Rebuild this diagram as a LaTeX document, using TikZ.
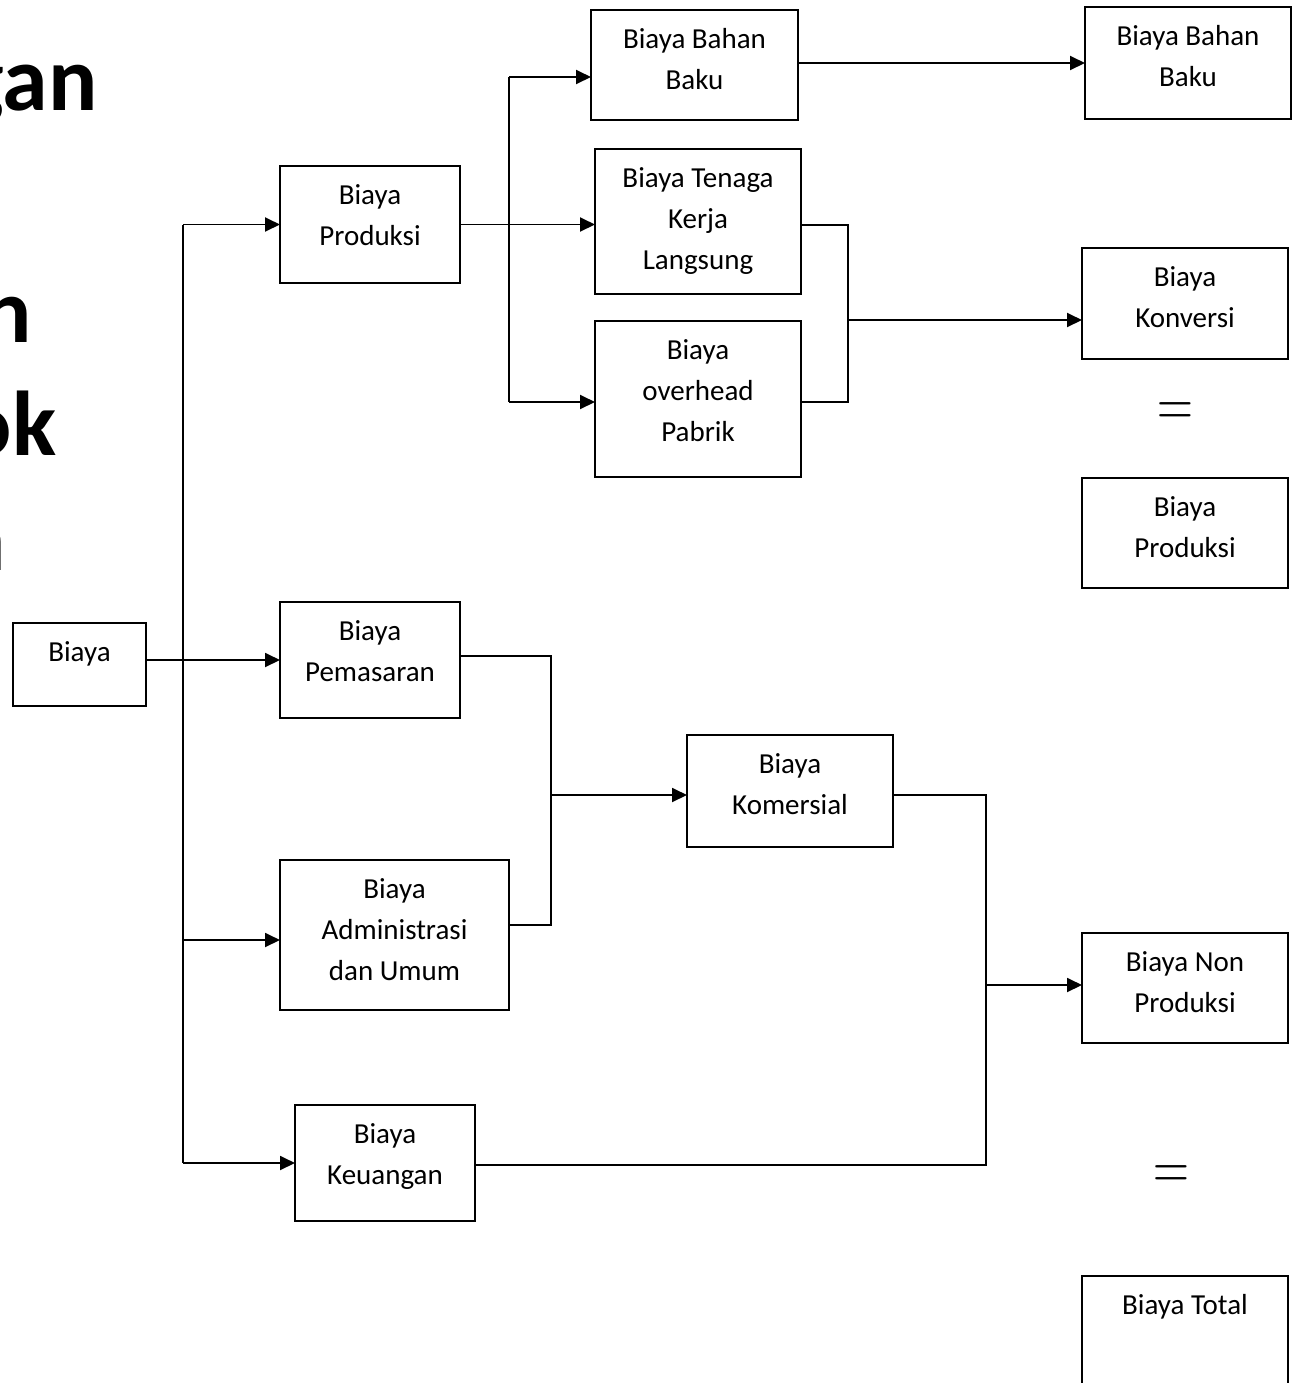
\documentclass[tikz,border=0pt]{standalone}
\usepackage{fontspec}
\usepackage{graphicx}
\setmainfont{Carlito}
\usetikzlibrary{arrows.meta,calc}
\tikzset{
 box/.style={draw, line width=1.25pt, inner sep=0pt, outer sep=0pt},
 txt/.style={font=\fontsize{14.5}{20.5}\selectfont, align=center, inner sep=0pt},
 conn/.style={line width=0.95pt},
 arr/.style={line width=0.95pt, -{Triangle[length=7.5pt,width=7pt]}},
 frag/.style={font=\fontsize{46}{46}\bfseries\selectfont, inner sep=0pt, anchor=base east},
 eq/.style={font=\fontsize{27}{27}\selectfont, inner sep=0pt}
}
\newcommand\bx[6]{%
 \pgfmathsetmacro\mybw{(#4-#2)*0.5}%
 \pgfmathsetmacro\mybh{(#5-#3)*0.5}%
 \node[box, minimum width=\mybw pt, minimum height=\mybh pt, anchor=north west] (#1) at (#2,#3) {};%
 \node[txt, anchor=north] (#1t) at ([yshift=-4.9pt]#1.north) {\strut #6};%
}
\begin{document}
\begin{tikzpicture}[x=0.5pt,y=-0.5pt]
\useasboundingbox (0,0) rectangle (1299,1383);
\clip (0,0) rectangle (1299,1383);
% title fragments
\node[frag] (f1) at (98,110) {gan};
\node[frag] (f2) at (32,342) {n};
\node[frag] (f3) at (57,455) {ok};
\node[frag] (f4) at (6,570) {n};
% boxes
\bx{biaya}{13}{623}{146}{706}{Biaya}
\bx{prod}{280}{166}{460}{283}{Biaya\\Produksi}
\bx{pem}{280}{602}{460}{718}{Biaya\\Pemasaran}
\bx{adm}{280}{860}{509}{1010}{Biaya\\Administrasi\\dan Umum}
\bx{keu}{295}{1105}{475}{1221}{Biaya\\Keuangan}
\bx{bb}{591}{10}{798}{120}{Biaya Bahan\\Baku}
\bx{tk}{595}{149}{801}{294}{Biaya Tenaga\\Kerja\\Langsung}
\bx{ov}{595}{321}{801}{477}{Biaya\\overhead\\Pabrik}
\bx{kom}{687}{735}{893}{847}{Biaya\\Komersial}
\bx{bbb}{1085}{7}{1291}{119}{Biaya Bahan\\Baku}
\bx{konv}{1082}{248}{1288}{359}{Biaya\\Konversi}
\bx{prodb}{1082}{478}{1288}{588}{Biaya\\Produksi}
\bx{nonp}{1082}{933}{1288}{1043}{Biaya Non\\Produksi}
\bx{tot}{1082}{1276}{1288}{1420}{Biaya Total}
\node[eq] (eq1) at (1175,415) {\scalebox{1}[1.35]{$=$}};
\node[eq] (eq2) at (1171,1178) {\scalebox{1}[1.35]{$=$}};
% junction coordinates
\coordinate (cA) at (183,0);
\coordinate (cB) at (509,0);
\coordinate (cC) at (848,320);
\coordinate (cD) at (551,795);
\coordinate (cE) at (986,985);
% Biaya -> four groups
\draw[conn] (cA |- prod.west) -- (cA |- keu.west);
\draw[arr] (cA |- prod.west) -- (prod.west);
\draw[arr] (biaya.east |- pem.west) -- (pem.west);
\draw[arr] ([yshift=-2.5pt]adm.west -| cA) -- ([yshift=-2.5pt]adm.west);
\draw[arr] (cA |- keu.west) -- (keu.west);
% Produksi -> three elements
\draw[conn] ([yshift=-6pt]bb.west -| cB) -- ([yshift=-1.5pt]ov.west -| cB);
\draw[arr] ([yshift=-6pt]bb.west -| cB) -- ([yshift=-6pt]bb.west);
\draw[arr] (prod.east) -- (tk.west |- prod.east);
\draw[arr] ([yshift=-1.5pt]ov.west -| cB) -- ([yshift=-1.5pt]ov.west);
% Konversi
\draw[conn] ([yshift=-1.75pt]tk.east) -| (cC) |- ([yshift=-1.5pt]ov.east);
\draw[arr] (cC) -- (cC -| konv.west);
% Bahan baku
\draw[arr] (bb.east |- bbb.west) -- (bbb.west);
% Komersial
\draw[conn] ([yshift=2pt]pem.east) -| (cD) |- ([yshift=5pt]adm.east);
\draw[arr] (cD) -- (cD -| kom.west);
% Non produksi
\draw[conn] ([yshift=-2pt]kom.east) -| (cE) |- ([yshift=-1pt]keu.east);
\draw[arr] (cE) -- (cE -| nonp.west);
\end{tikzpicture}
\end{document}
